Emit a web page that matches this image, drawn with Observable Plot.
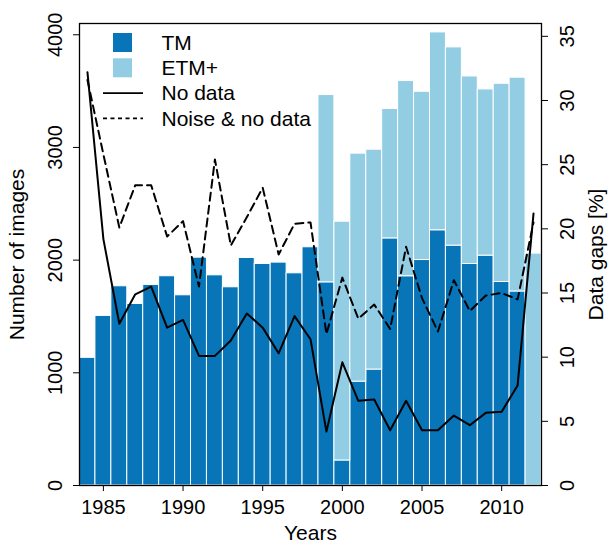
<!DOCTYPE html>
<html><head><meta charset="utf-8">
<script src="https://cdn.jsdelivr.net/npm/d3@7"></script>
<script src="https://cdn.jsdelivr.net/npm/@observablehq/plot@0.6"></script>
<style>body{margin:0;background:#fff;}</style>
</head><body><div id="chart"></div>
<script>
const years = [1984,1985,1986,1987,1988,1989,1990,1991,1992,1993,1994,1995,1996,1997,1998,1999,2000,2001,2002,2003,2004,2005,2006,2007,2008,2009,2010,2011,2012];
const tmImages = [1133,1505,1768,1611,1780,1857,1688,2022,1865,1759,2019,1966,1978,1883,2114,1803,222,922,1029,2193,1857,2001,2265,2129,1966,2040,1806,1722,0];
const etmImages = [0,0,0,0,0,0,0,0,0,0,0,0,0,0,0,1662,2119,2023,1951,1148,1732,1493,1756,1759,1664,1475,1759,1897,2058];
const noDataPct = [32.2,19.2,12.6,14.9,15.5,12.3,12.9,10.1,10.1,11.3,13.4,12.3,10.3,13.2,11.4,4.2,9.6,6.6,6.7,4.3,6.6,4.3,4.3,5.45,4.7,5.66,5.75,7.8,21.2];
const noiseNoDataPct = [31.6,25.8,20.1,23.4,23.4,19.4,20.6,15.5,25.4,18.7,20.9,23.2,18.0,20.4,20.5,11.8,16.2,13.0,14.1,12.2,18.6,14.6,12.0,16.0,13.6,14.8,15.0,14.5,20.5];
const xTicks = [1985,1990,1995,2000,2005,2010];
const leftTicks = [0,1000,2000,3000,4000];
const rightTicks = [0,5,10,15,20,25,30,35];
const sensorNames = ["TM","ETM+"];
const sensorColors = ["#0775b7","#92cde4"];
const lineNames = ["No data","Noise & no data"];

const leftMax = 4100, rightMax = 36, k = leftMax / rightMax;
const font = "'Liberation Sans', Arial, Helvetica, sans-serif";

const bars = [
  ...years.map((y, i) => ({year: y, sensor: sensorNames[0], y1: 0, y2: tmImages[i]})),
  ...years.map((y, i) => ({year: y, sensor: sensorNames[1], y1: tmImages[i], y2: tmImages[i] + etmImages[i]}))
].filter(d => d.y2 > d.y1);
const gaps = years.map((y, i) => ({year: y, noData: noDataPct[i], noise: noiseNoDataPct[i]}));

function legend(index, scales, values, dims) {
  const g = d3.create("svg:g").attr("font-family", font).attr("font-size", 21).attr("fill", "black").attr("text-anchor", "start");
  const x0 = dims.marginLeft, y0 = dims.marginTop;
  const rowY = i => y0 + 19.5 + i * 25.3;
  sensorNames.forEach((name, i) => {
    g.append("rect").attr("x", x0 + 34).attr("y", rowY(i) - 9.5).attr("width", 19).attr("height", 19).attr("fill", sensorColors[i]);
    g.append("text").attr("x", x0 + 82.5).attr("y", rowY(i)).attr("dy", "0.35em").text(name);
  });
  lineNames.forEach((name, j) => {
    const i = j + 2;
    g.append("line").attr("x1", x0 + 24).attr("x2", x0 + 64).attr("y1", rowY(i)).attr("y2", rowY(i))
      .attr("stroke", "black").attr("stroke-width", 1.6).attr("stroke-dasharray", j ? "4,3.5" : null);
    g.append("text").attr("x", x0 + 82.5).attr("y", rowY(i)).attr("dy", "0.35em").text(name);
  });
  return g.node();
}

const chart = Plot.plot({
  width: 608, height: 545,
  marginLeft: 79, marginRight: 67, marginTop: 23, marginBottom: 60,
  style: {fontFamily: font, fontSize: "20px", color: "black", background: "white"},
  x: {domain: [1983.5, 2012.5]},
  y: {domain: [0, leftMax]},
  color: {domain: sensorNames, range: sensorColors},
  marks: [
    Plot.rect(bars, {x1: d => d.year - 0.5, x2: d => d.year + 0.5, y1: "y1", y2: "y2", fill: "sensor", stroke: "white", strokeWidth: 1}),
    Plot.line(gaps, {x: "year", y: d => d.noise * k, stroke: "black", strokeWidth: 2, strokeDasharray: "8,5"}),
    Plot.line(gaps, {x: "year", y: d => d.noData * k, stroke: "black", strokeWidth: 2}),
    Plot.frame({stroke: "black", strokeWidth: 1.3}),
    Plot.axisX({ticks: xTicks, tickSize: 6, tickPadding: 8, tickFormat: d => String(d), fontSize: 20, label: null}),
    Plot.axisY({ticks: leftTicks, tickSize: 6, fill: "none", label: null}),
    Plot.axisY({anchor: "right", ticks: rightTicks.map(v => v * k), tickSize: 6, fill: "none", label: null}),
    Plot.text(leftTicks, {y: d => d, text: d => String(d), frameAnchor: "left", dx: -24, rotate: -90, textAnchor: "middle", lineAnchor: "middle", fontSize: 20}),
    Plot.text(rightTicks, {y: d => d * k, text: d => String(d), frameAnchor: "right", dx: 26, rotate: -90, textAnchor: "middle", lineAnchor: "middle", fontSize: 20}),
    Plot.text(["Number of images"], {text: d => d, frameAnchor: "left", dx: -62, rotate: -90, textAnchor: "middle", lineAnchor: "middle", fontSize: 21}),
    Plot.text(["Data gaps [%]"], {text: d => d, frameAnchor: "right", dx: 55, rotate: -90, textAnchor: "middle", lineAnchor: "middle", fontSize: 21}),
    Plot.text(["Years"], {text: d => d, frameAnchor: "bottom", dy: 48, lineAnchor: "middle", fontSize: 21}),
    legend
  ]
});
document.getElementById("chart").appendChild(chart);
</script>
</body></html>
